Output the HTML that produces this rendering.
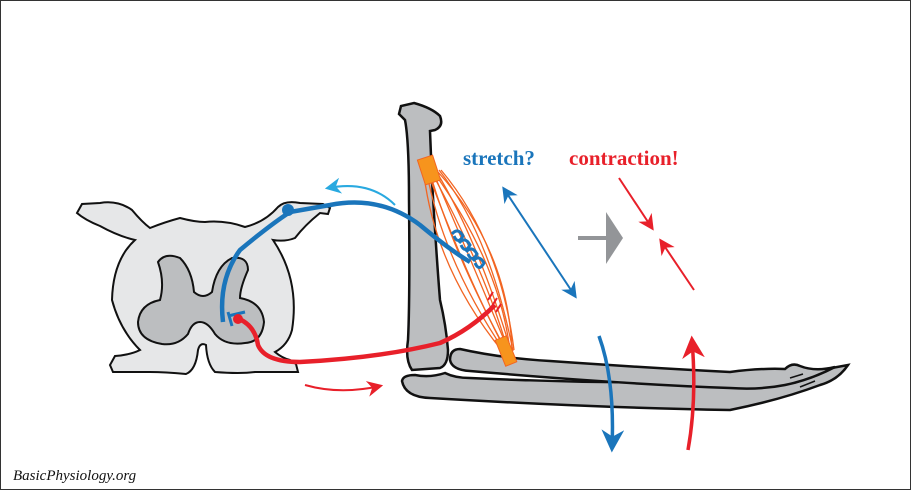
<!DOCTYPE html>
<html><head><style>body{margin:0;background:#fff}svg{display:block}</style></head><body>
<svg width="911" height="490" viewBox="0 0 911 490" xmlns="http://www.w3.org/2000/svg">
<defs>
<marker id="bh" viewBox="0 0 10 10" refX="8" refY="5" markerWidth="8" markerHeight="8" orient="auto-start-reverse"><path d="M0,0 L10,5 L0,10 L3,5z" fill="#1a75bb"/></marker>
<marker id="rh" viewBox="0 0 10 10" refX="8" refY="5" markerWidth="8" markerHeight="8" orient="auto"><path d="M0,0 L10,5 L0,10 L3,5z" fill="#e8202a"/></marker>
<marker id="ch" viewBox="0 0 10 10" refX="8" refY="5" markerWidth="8" markerHeight="8" orient="auto"><path d="M0,0 L10,5 L0,10 L3,5z" fill="#29a9e0"/></marker>
<marker id="bbig" viewBox="0 0 10 10" refX="8" refY="5" markerWidth="6.5" markerHeight="6.5" orient="auto"><path d="M0,0 L10,5 L0,10 L3,5z" fill="#1a75bb"/></marker>
<marker id="rbig" viewBox="0 0 10 10" refX="8" refY="5" markerWidth="6.5" markerHeight="6.5" orient="auto"><path d="M0,0 L10,5 L0,10 L3,5z" fill="#e8202a"/></marker>
</defs>
<rect x="0.5" y="0.5" width="910" height="489" fill="#fff" stroke="#333"/>
<path d="M77,213 L82,204 L100,203 Q118,200 132,210 Q142,222 150,228 Q165,222 180,218 Q195,222 205,222 Q225,220 245,227 Q265,222 278,207 Q285,200 300,203 L323,204 L330,208 L328,214 L320,213 Q305,225 295,238 Q285,242 273,240 Q300,280 292,330 Q288,345 275,352 Q282,358 290,360 L296,364 L298,372 L290,372 Q270,372 255,372 Q240,374 215,372 Q207,364 206,345 Q200,342 198,350 Q196,370 186,374 Q165,372 150,372 L113,372 L110,365 L115,356 Q130,355 140,350 Q120,330 112,300 Q113,260 135,240 Q118,236 100,226 Q85,220 77,213Z" fill="#e6e7e8" stroke="#111" stroke-width="2"/>
<path d="M158,262 Q165,252 180,258 Q192,270 194,292 Q203,300 212,292 Q216,266 232,258 Q248,256 248,270 Q240,288 240,298 Q262,302 264,322 Q262,342 245,343 Q225,346 215,334 Q208,322 200,322 Q192,322 188,334 Q178,346 162,344 Q138,340 138,322 Q140,304 160,300 Q165,282 158,262Z" fill="#bcbec0" stroke="#111" stroke-width="2"/>
<path d="M399,114 L401,106 L414,103 Q432,108 440,116 Q444,126 435,130 L430,131 L432,180 Q436,250 440,300 Q446,325 448,350 Q448,365 440,368 L412,370 Q405,360 408,340 Q410,300 409,200 Q409,140 405,120 Z" fill="#bcbec0" stroke="#111" stroke-width="2.5"/>
<path d="M402,381 Q403,375 415,375 Q430,378 445,373 Q455,378 470,378 Q600,384 730,382 Q780,380 810,372 L848,365 Q838,380 820,385 Q780,400 730,410 Q600,408 430,398 Q405,397 402,381Z" fill="#bcbec0" stroke="#111" stroke-width="2.5"/>
<path d="M450,360 Q450,349 460,349 Q500,358 550,361 Q650,368 730,372 Q760,368 785,369 Q792,362 800,366 Q815,372 835,367 Q810,380 785,385 Q760,390 730,388 Q620,384 470,371 Q452,370 450,360Z" fill="#bcbec0" stroke="#111" stroke-width="2.5"/>
<path d="M790,378 L803,374 M795,383 L810,378 M800,387 L815,381" stroke="#111" stroke-width="1.5"/>
<g fill="none" stroke="#f26522" stroke-width="1.3">
<path d="M424,175 Q436,270 503,352"/><path d="M427,174 Q444,262 505,352"/><path d="M430,173 Q454,255 507,352"/><path d="M433,172 Q466,248 509,352"/><path d="M436,171 Q478,240 511,351"/><path d="M439,170 Q490,235 513,351"/><path d="M441,170 Q500,240 514,350"/><path d="M438,172 Q508,250 512,350"/><path d="M435,174 Q500,265 510,351"/><path d="M429,176 Q470,285 506,351"/><path d="M432,173 Q485,270 508,351"/>
</g>
<rect x="421" y="157" width="16" height="26" fill="#f7941d" stroke="#f26522" transform="rotate(-18 429 170)"/>
<rect x="500" y="337" width="12" height="28" fill="#f7941d" stroke="#f26522" transform="rotate(-22 506 351)"/>
<path d="M223,322 Q218,280 240,250 Q270,225 290,212 L330,205 Q380,195 420,225 Q450,250 470,262" fill="none" stroke="#1a75bb" stroke-width="4.5"/>
<circle cx="288" cy="210" r="6" fill="#1a75bb"/>
<path d="M228,316 L245,312 M228,312 L232,326" stroke="#1a75bb" stroke-width="3"/>
<path d="M452,234 q6,-7 11,2 q-5,9 -9,0 M459,243 q6,-7 11,2 q-5,9 -9,0 M466,252 q6,-7 11,2 q-5,9 -9,0 M473,261 q6,-7 11,2 q-5,9 -9,0" fill="none" stroke="#1a75bb" stroke-width="3"/>
<path d="M237,318 Q255,325 258,345 Q265,362 300,362 Q380,358 440,343 Q470,330 495,305" fill="none" stroke="#e8202a" stroke-width="4.5"/>
<circle cx="238" cy="319" r="5" fill="#e8202a"/>
<path d="M488,300 l5,-8 M492,306 l5,-8 M496,312 l5,-8" stroke="#e8202a" stroke-width="2"/>
<path d="M395,205 Q370,180 328,188" fill="none" stroke="#29a9e0" stroke-width="2" marker-end="url(#ch)"/>
<path d="M305,385 Q340,395 380,386" fill="none" stroke="#e8202a" stroke-width="2" marker-end="url(#rh)"/>
<line x1="504" y1="189" x2="575" y2="296" stroke="#1a75bb" stroke-width="2" marker-start="url(#bh)" marker-end="url(#bh)"/>
<line x1="578" y1="238" x2="607" y2="238" stroke="#939598" stroke-width="4"/>
<path d="M606,212 L623,238 L606,264Z" fill="#939598"/>
<line x1="619" y1="178" x2="652" y2="228" stroke="#e8202a" stroke-width="2" marker-end="url(#rh)"/>
<line x1="694" y1="290" x2="661" y2="241" stroke="#e8202a" stroke-width="2" marker-end="url(#rh)"/>
<path d="M599,336 Q615,380 612,448" fill="none" stroke="#1a75bb" stroke-width="3.5" marker-end="url(#bbig)"/>
<path d="M688,450 Q697,400 692,340" fill="none" stroke="#e8202a" stroke-width="3.5" marker-end="url(#rbig)"/>
<text x="463" y="165" font-family="Liberation Serif,serif" font-weight="bold" font-size="21" fill="#1a75bb">stretch?</text>
<text x="569" y="165" font-family="Liberation Serif,serif" font-weight="bold" font-size="21" fill="#e8202a">contraction!</text>
<text x="13" y="480" font-family="Liberation Serif,serif" font-style="italic" font-size="15" fill="#111">BasicPhysiology.org</text>
</svg>
</body></html>
